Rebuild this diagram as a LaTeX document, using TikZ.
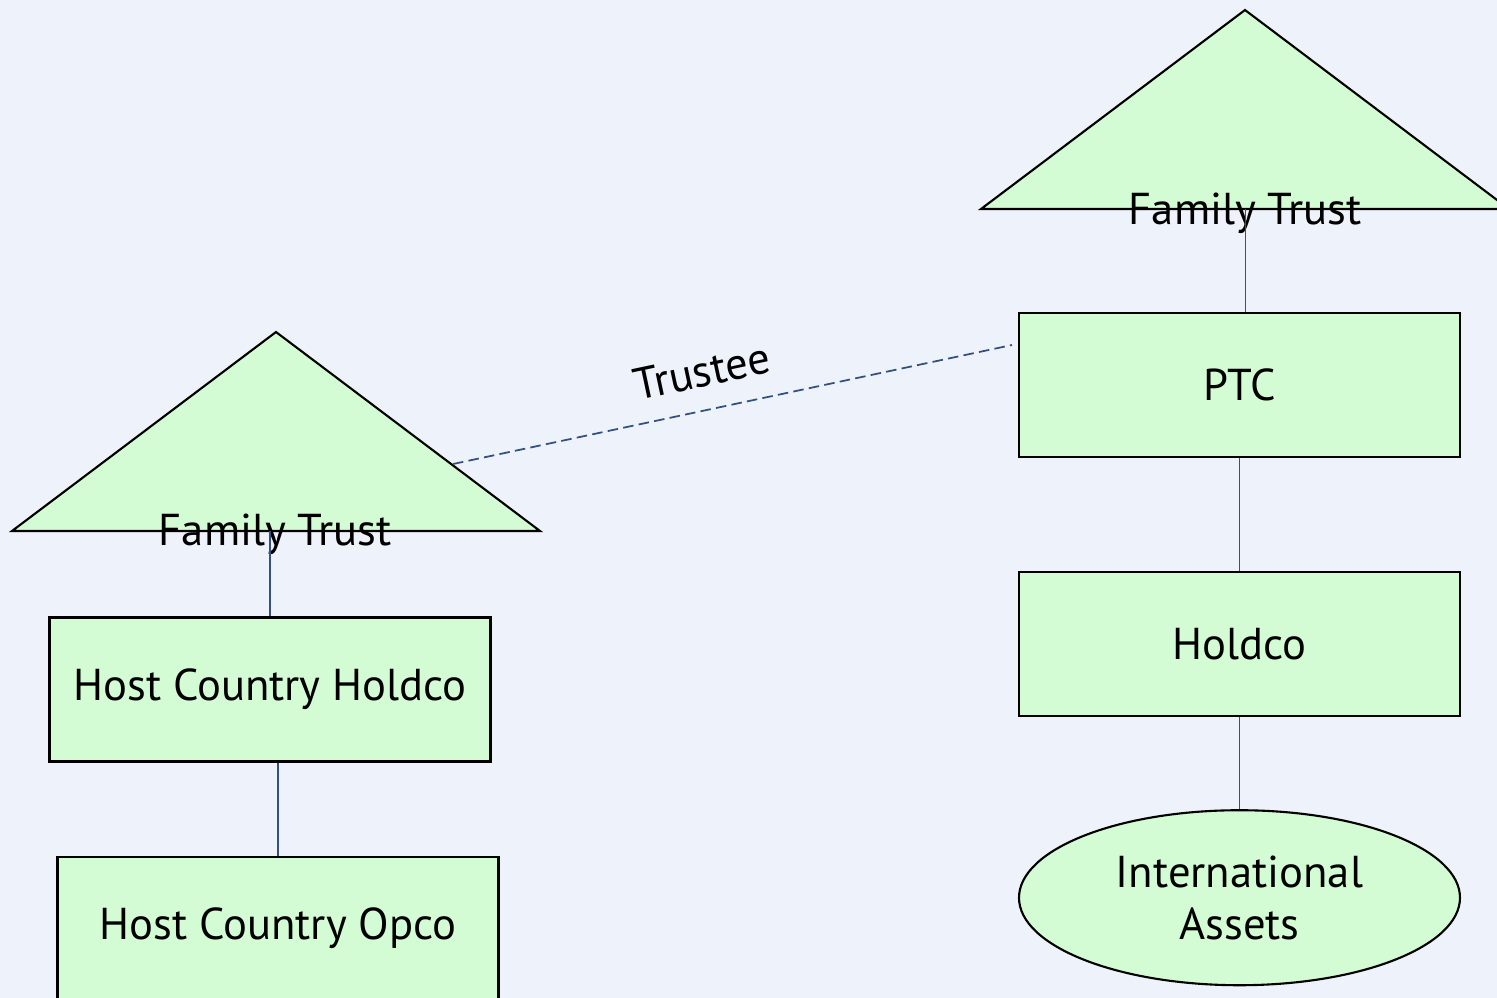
\documentclass[tikz,border=0pt]{standalone}
\usepackage{fontspec}
\setmainfont{PT Sans}
\usetikzlibrary{shapes.geometric, positioning}
\definecolor{PaleSky}{HTML}{EEF2FB}
\definecolor{MintFill}{HTML}{D4FCD4}
\definecolor{LinkNavy}{HTML}{34507F}

\begin{document}
\begin{tikzpicture}[
    entbox/.style={draw=black, fill=MintFill, line width=0.6pt, minimum width=4.41cm, minimum height=1.44cm, inner sep=0pt, font=\fontsize{12.7}{15}\selectfont},
    assetoval/.style={ellipse, draw=black, fill=MintFill, line width=0.6pt, minimum width=4.41cm, minimum height=1.75cm, inner sep=0pt, align=center, font=\fontsize{12.7}{14.8}\selectfont},
    trustshape/.style={draw=black, fill=MintFill, line width=0.6pt},
    trustlbl/.style={anchor=base, inner sep=0pt, font=\fontsize{12.7}{15}\selectfont},
    link/.style={draw=LinkNavy, line width=0.5pt}
  ]
  \useasboundingbox[fill=PaleSky] (0,0) rectangle (14.97,-9.98);

  % right side: family trust -> PTC -> Holdco -> assets
  \path[trustshape] (12.45,-0.10) -- (15.09,-2.09) -- (9.81,-2.09) -- cycle;
  \coordinate (ftRfoot) at (12.455,-2.09);
  \node[trustlbl] (ftR) at (12.45,-2.24) {Family Trust};
  \node[entbox] (ptc) at (12.395,-3.85) {PTC};
  \node[entbox, below=1.13cm of ptc] (holdco) {Holdco};
  \node[assetoval, below=0.92cm of holdco] (intl) {International\\Assets};

  % left side: family trust -> host country companies
  \path[trustshape] (2.76,-3.32) -- (5.40,-5.31) -- (0.12,-5.31) -- cycle;
  \coordinate (ftLfoot) at (2.70,-5.31);
  \node[trustlbl] (ftL) at (2.75,-5.45) {Family Trust};
  \node[entbox] (hch) at (2.70,-6.895) {Host Country Holdco};
  \node[entbox, below=0.93cm of hch, xshift=0.08cm] (hco) {Host Country Opco};

  \draw[link] (ftRfoot) -- (ftRfoot |- ptc.north);
  \draw[link] (ptc) -- (holdco);
  \draw[link] (holdco) -- (intl);
  \draw[link] (ftLfoot) -- (hch.north);
  \draw[link] (hch.south -| hco.north) -- (hco.north);

  % trustee relation
  \coordinate (trL) at (4.53,-4.64);
  \coordinate (trR) at (10.12,-3.45);
  \draw[link, dashed, dash pattern=on 3pt off 1.5pt] (trL) -- node[pos=0.46, above=3pt, sloped, font=\fontsize{12.7}{15}\selectfont] (trustee) {Trustee} (trR);
\end{tikzpicture}
\end{document}
